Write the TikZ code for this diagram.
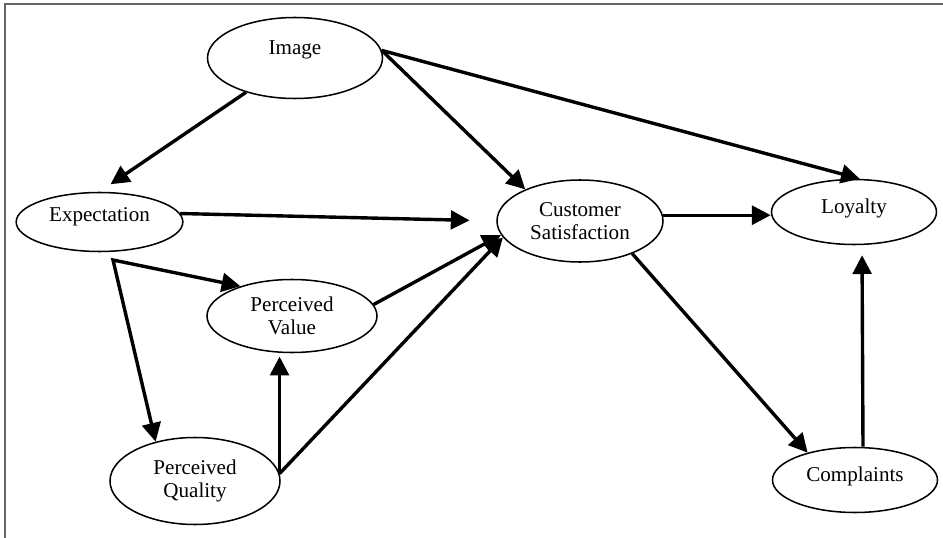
\documentclass[tikz,border=0pt]{standalone}
\usepackage{fontspec}
\setmainfont{Liberation Serif}
\usetikzlibrary{shapes.geometric,arrows.meta}

\begin{document}
\begin{tikzpicture}[x=0.03cm,y=-0.03cm,
    >={Triangle[length=16pt,width=16pt]},
    construct/.style={ellipse,draw,line width=1.3pt,align=center,inner sep=0pt,
      font=\fontsize{18}{19.5}\selectfont},
    link/.style={line width=2.9pt,->}]
    \useasboundingbox (0,0) rectangle (943,538);
    \draw[line width=1.7pt,black!60] (943,4) -- (5,4) -- (5,538);

    \node[construct,minimum width=5.25cm,minimum height=2.43cm,text depth=0.6cm] (img) at (295,58) {Image};
    \node[construct,minimum width=5.0cm,minimum height=1.77cm,text depth=0.45cm] (exp) at (99.5,222) {Expectation};
    \node[construct,minimum width=4.98cm,minimum height=2.46cm] (cs) at (580,221) {Customer\\Satisfaction};
    \node[construct,minimum width=4.95cm,minimum height=1.95cm,text depth=0.35cm] (loy) at (854,212) {Loyalty};
    \node[construct,minimum width=5.1cm,minimum height=2.19cm] (pv) at (292,316) {Perceived\\Value};
    \node[construct,minimum width=5.1cm,minimum height=2.61cm] (pq) at (195,481) {Perceived\\Quality};
    \node[construct,minimum width=4.95cm,minimum height=1.95cm,text depth=0.35cm] (comp) at (855,480) {Complaints};
    \coordinate (fork) at (113,260);

    \draw[link,shorten >=0.4cm] (img.215) -- (exp.north);
    \draw[link] (img.5) -- (cs.150);
    \draw[link] (img.5) -- (loy.80);
    \draw[link,shorten >=0.8cm] (exp.6) -- (cs.west);
    \draw[link,<->] (pv.150) -- (fork) -- (pq.135);
    \draw[link] (pv.8) -- (cs.190);
    \draw[link] (pq.5) -- (cs.192);
    \draw[link,shorten >=0.1cm] (pq.5) -- (pq.5 |- pv.south);
    \draw[link] (cs.4) -- (cs.4 -| loy.west);
    \draw[link] (cs.-32) -- (comp.150);
    \draw[link,shorten >=0.3cm] ([xshift=0.24cm]comp.north) -- ([xshift=0.24cm]loy.south);
  \end{tikzpicture}
\end{document}
